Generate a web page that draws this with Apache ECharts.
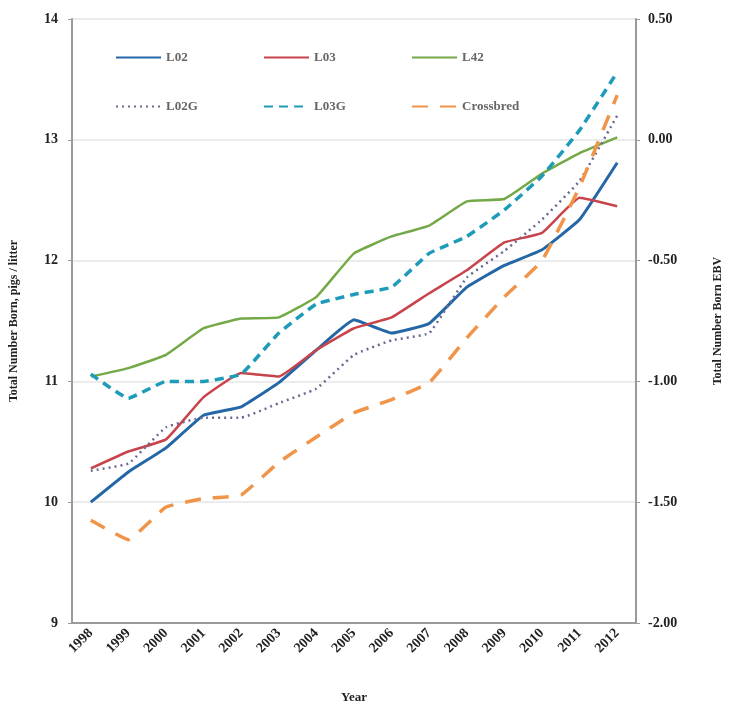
<!DOCTYPE html>
<html>
<head>
<meta charset="utf-8">
<script src="https://cdn.jsdelivr.net/npm/echarts@6/dist/echarts.min.js"></script>
<style>
  html, body { margin: 0; padding: 0; background: #fff; }
  #main { width: 732px; height: 709px; }
</style>
</head>
<body>
<div id="main"></div>
<script>
// data
var years = ['1998','1999','2000','2001','2002','2003','2004','2005','2006','2007','2008','2009','2010','2011','2012'];
var leftTicks = [9, 10, 11, 12, 13, 14];
var rightTicks = [-2.00, -1.50, -1.00, -0.50, 0.00, 0.50];

// pigs / litter (left axis)
var l02 = [10.00, 10.25, 10.45, 10.72, 10.79, 10.99, 11.26, 11.51, 11.40, 11.48, 11.78, 11.96, 12.09, 12.34, 12.81];
var l03 = [10.28, 10.42, 10.52, 10.87, 11.07, 11.04, 11.26, 11.44, 11.53, 11.73, 11.92, 12.15, 12.23, 12.52, 12.45];
var l42 = [11.04, 11.11, 11.22, 11.44, 11.52, 11.53, 11.70, 12.06, 12.20, 12.29, 12.49, 12.51, 12.72, 12.89, 13.02];
var crossbred = [9.85, 9.69, 9.96, 10.03, 10.06, 10.33, 10.54, 10.74, 10.85, 10.99, 11.36, 11.70, 12.00, 12.61, 13.37];

// EBV (right axis)
var l02g = [-1.37, -1.34, -1.19, -1.15, -1.15, -1.09, -1.03, -0.89, -0.83, -0.80, -0.57, -0.46, -0.33, -0.17, 0.10];
var l03g = [-0.97, -1.07, -1.00, -1.00, -0.97, -0.80, -0.68, -0.64, -0.61, -0.47, -0.40, -0.29, -0.15, 0.04, 0.28];

var serif = 'Liberation Serif';
var axisColor = '#9a9a9a';

var myChart = echarts.init(document.getElementById('main'));

function legendCol(left, names) {
  return {
    orient: 'vertical',
    left: left,
    top: 46,
    itemWidth: 45,
    itemHeight: 14,
    itemGap: 36,
    data: names,
    itemStyle: { opacity: 0 },
    textStyle: { fontFamily: serif, fontSize: 13, fontWeight: 'bold', color: '#666' }
  };
}

function line(name, data, color, width, type, yIdx) {
  return {
    name: name,
    type: 'line',
    yAxisIndex: yIdx,
    data: data,
    symbol: 'none',
    smooth: 0.1,
    lineStyle: { color: color, width: width, type: type },
    itemStyle: { color: color }
  };
}

var option = {
  animation: false,
  backgroundColor: '#fff',
  grid: { left: 70, right: 84, top: 19, bottom: 86 },
  legend: [
    legendCol(110, ['L02', 'L02G']),
    legendCol(258, ['L03', 'L03G']),
    legendCol(406, ['L42', 'Crossbred'])
  ],
  xAxis: {
    type: 'category',
    data: years,
    boundaryGap: true,
    name: 'Year',
    nameLocation: 'middle',
    nameGap: 68,
    nameTextStyle: { fontFamily: serif, fontSize: 13, fontWeight: 'bold', color: '#222' },
    axisLine: { onZero: false, lineStyle: { color: axisColor, width: 2 } },
    axisTick: { show: false },
    axisLabel: { rotate: 45, margin: 8, interval: 0, fontFamily: serif, fontSize: 14, fontWeight: 'bold', color: '#222' }
  },
  yAxis: [
    {
      type: 'value',
      min: leftTicks[0],
      max: leftTicks[leftTicks.length - 1],
      interval: 1,
      name: 'Total Number Born, pigs / litter',
      nameLocation: 'middle',
      nameGap: 52,
      nameTextStyle: { fontFamily: serif, fontSize: 12, fontWeight: 'bold', color: '#222' },
      axisLine: { show: true, lineStyle: { color: axisColor, width: 2 } },
      axisTick: { show: true, length: 4, lineStyle: { color: axisColor } },
      axisLabel: { margin: 14, fontFamily: serif, fontSize: 14, fontWeight: 'bold', color: '#222' },
      splitLine: { lineStyle: { color: '#e6e6e6', width: 1.5 } }
    },
    {
      type: 'value',
      min: rightTicks[0],
      max: rightTicks[rightTicks.length - 1],
      interval: 0.5,
      position: 'right',
      name: 'Total Number Born EBV',
      nameLocation: 'middle',
      nameGap: 76,
      nameTextStyle: { fontFamily: serif, fontSize: 12, fontWeight: 'bold', color: '#222' },
      axisLine: { show: true, lineStyle: { color: axisColor, width: 2 } },
      axisTick: { show: true, length: 4, lineStyle: { color: axisColor } },
      axisLabel: {
        margin: 12, fontFamily: serif, fontSize: 14, fontWeight: 'bold', color: '#222',
        formatter: function (v) { return v.toFixed(2); }
      },
      splitLine: { show: false }
    }
  ],
  series: [
    line('L02', l02, '#2467a6', 3, 'solid', 0),
    line('L03', l03, '#c8434a', 2.5, 'solid', 0),
    line('L42', l42, '#74a947', 2.5, 'solid', 0),
    line('L02G', l02g, '#6d6890', 2.5, [2, 4], 1),
    line('L03G', l03g, '#1e9bb9', 3.5, [9, 6], 1),
    line('Crossbred', crossbred, '#f0944a', 3.5, [16, 12], 0)
  ]
};

myChart.setOption(option);
</script>
</body>
</html>
